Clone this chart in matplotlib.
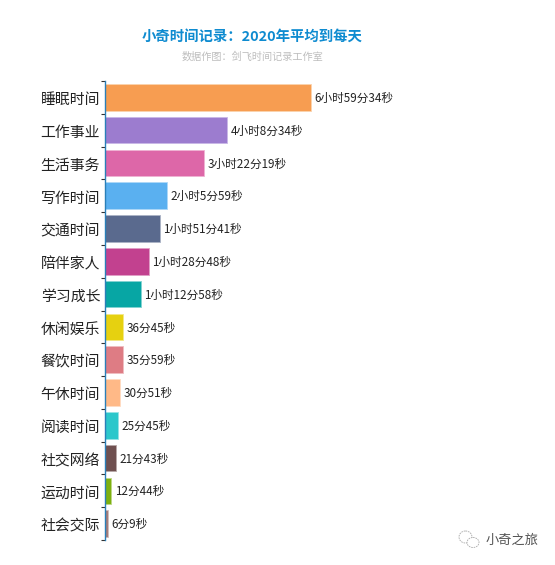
import matplotlib
matplotlib.use("Agg")
import matplotlib.pyplot as plt
from matplotlib.patches import Ellipse
from matplotlib.transforms import ScaledTranslation

plt.rcParams['font.family'] = ['Noto Sans CJK SC', 'DejaVu Sans']

#Data
categories = ['睡眠时间', '工作事业', '生活事务', '写作时间', '交通时间', '陪伴家人', '学习成长',
              '休闲娱乐', '餐饮时间', '午休时间', '阅读时间', '社交网络', '运动时间', '社会交际']
hours = [6, 4, 3, 2, 1, 1, 1, 0, 0, 0, 0, 0, 0, 0]
minutes = [59, 8, 22, 5, 51, 28, 12, 36, 35, 30, 25, 21, 12, 6]
seconds = [34, 34, 19, 59, 41, 48, 58, 45, 59, 51, 45, 43, 44, 9]
labels = ['6小时59分34秒', '4小时8分34秒', '3小时22分19秒', '2小时5分59秒', '1小时51分41秒',
          '1小时28分48秒', '1小时12分58秒', '36分45秒', '35分59秒', '30分51秒', '25分45秒',
          '21分43秒', '12分44秒', '6分9秒']
colors = ['#F79D51', '#9C7CCF', '#DD67A8', '#5AB0F0', '#5A6A8E', '#C2418F', '#07A6A4',
          '#E6D110', '#DE7C84', '#FFB987', '#2CC7CB', '#6F5050', '#7DB00F', '#A67C78']
edges = ['#FBD3AE', '#C9B8E6', '#EFB2D2', '#ACD7F7', '#ABB3C5', '#E0A0C6', '#82D2D1',
         '#F2E787', '#EEBDC1', '#FFDCC3', '#95E3E5', '#B7A7A7', '#BED787', '#D2BDBB']

total = [h * 3600 + m * 60 + s for h, m, s in zip(hours, minutes, seconds)]

W, H = 555, 565
fig = plt.figure(figsize=(W / 100, H / 100), dpi=100)
#Axes box in pixels: left 105, top 81, bottom 540
ax = fig.add_axes([105 / W, 1 - 540 / H, 420 / W, 459 / H])

y = list(range(len(categories)))
ax.barh(y, total, height=0.81, color=colors, edgecolor=edges, linewidth=0.6)
ax.set_ylim(len(categories) - 0.5, -0.5)
ax.set_xlim(0, 420 / 206 * total[0])

for i in y:
    ax.annotate(labels[i], (total[i], i), xytext=(2.5, -0.7), textcoords='offset points',
                va='center', ha='left', fontsize=8.4, color='#222222')

#Axis
for s in ['top', 'right', 'bottom']:
    ax.spines[s].set_visible(False)
ax.spines['left'].set_color('#2A7FB8')
ax.spines['left'].set_linewidth(1.0)
ax.xaxis.set_visible(False)
ax.set_yticks([v - 0.5 for v in y] + [len(y) - 0.5])
ax.set_yticklabels([])
ax.tick_params(axis='y', length=3, width=0.8, color='#333333')
ax.set_yticks(y, minor=True)
ax.set_yticklabels(categories, minor=True, fontsize=10.7, color='#222222')
ax.tick_params(axis='y', which='minor', length=0, pad=3.5)
shift = ScaledTranslation(0, -1.5 / 100, fig.dpi_scale_trans)
for t in ax.get_yticklabels(minor=True):
    t.set_transform(t.get_transform() + shift)

#Titles
fig.text(252 / W, 1 - 37 / H, '小奇时间记录：2020年平均到每天', ha='center', va='center',
         fontsize=10.4, fontweight='bold', color='#0E8BD0')
fig.text(252 / W, 1 - 56.5 / H, '数据作图：剑飞时间记录工作室', ha='center', va='center',
         fontsize=7.3, color='#BDBDBD')

#Watermark
icon = fig.add_axes([0, 0, 1, 1], facecolor='none')
icon.set_xlim(0, W)
icon.set_ylim(H, 0)
icon.axis('off')
icon.add_patch(Ellipse((465.5, 537), 13, 12, fill=False, ec='#AAAAAA', lw=0.6, ls=(0, (2, 1))))
icon.add_patch(Ellipse((473, 542.5), 12, 10, fc='white', ec='#AAAAAA', lw=0.6, ls=(0, (2, 1))))
fig.text(512 / W, 1 - 540 / H, '小奇之旅', ha='center', va='center', fontsize=9.5, color='#555555')

fig.savefig('out.png', dpi=100)
